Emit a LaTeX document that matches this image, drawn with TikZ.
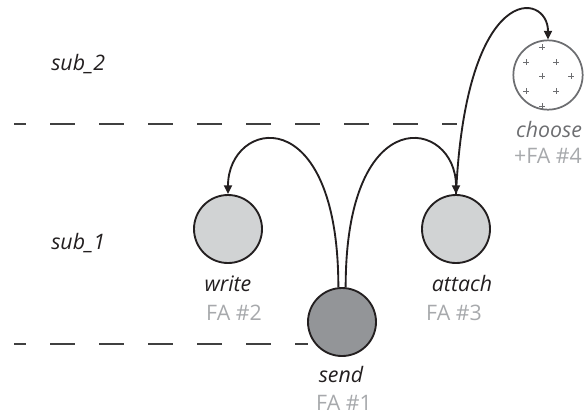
\documentclass[tikz,border=0pt]{standalone}
\usepackage{fontspec}
\setmainfont{Open Sans}
\usetikzlibrary{arrows.meta,calc}
\definecolor{lightfill}{HTML}{D1D3D4}
\definecolor{darkfill}{HTML}{939598}
\definecolor{falabel}{HTML}{A7A9AC}
\definecolor{chooselabel}{HTML}{6D6E71}
\definecolor{dashgray}{HTML}{404040}
\definecolor{txt}{HTML}{231F20}
\tikzset{
  statenode/.style={circle, draw=txt, line width=1.4pt, minimum size=51pt, inner sep=0pt},
  namelabel/.style={anchor=base, font=\fontsize{16}{18}\selectfont\itshape, text=txt, inner sep=0pt},
  falab/.style={anchor=base, font=\fontsize{16}{18}\selectfont, text=falabel, inner sep=0pt},
  sublabel/.style={anchor=base west, font=\fontsize{16}{18}\selectfont\itshape, text=txt, inner sep=0pt},
  divider/.style={draw=dashgray, line width=1.6pt, dash pattern=on 18.75pt off 18pt, dash phase=9.75pt},
  conn/.style={draw=txt, line width=1.4pt},
  arr/.style={conn, -{Triangle[length=6.5pt,width=6pt]}},
  plusmark/.style={draw=chooselabel, line width=0.6pt}
}
\begin{document}
\begin{tikzpicture}[x=0.75pt,y=-0.75pt]
\useasboundingbox (0,0) rectangle (584,415);
% dividers
\coordinate (d1a) at (14,124);
\coordinate (d1b) at (457,124);
\coordinate (d2a) at (14,344);
\coordinate (d2b) at (308,344);
\draw[divider] (d1a) -- (d1b);
\draw[divider] (d2a) -- (d2b);
% sub labels
\node[sublabel] (s2) at (51,70) {sub\_2};
\node[sublabel] (s1) at (51,249) {sub\_1};
% states
\node[statenode, fill=lightfill] (write) at (228,229) {};
\node[statenode, fill=darkfill] (send) at (342,322) {};
\node[statenode, fill=lightfill] (attach) at (456,229) {};
\node[statenode, draw=chooselabel, fill=white, line width=1.3pt, minimum size=52pt] (choose) at (548,75) {};
% plus marks
\foreach \dx/\dy [count=\i] in {-6/-28,-22/-13,8/-13,-6/1,23/1,-22/16,8/16,-6/31}{
  \coordinate (p\i) at ($(choose.center)+(\dx,\dy)$);
  \draw[plusmark] ($(p\i)+(-3,0)$) -- ($(p\i)+(3,0)$);
  \draw[plusmark] ($(p\i)+(0,-3)$) -- ($(p\i)+(0,3)$);
}
% labels
\node[namelabel] (lw) at (228,291) {write};
\node[falab] (fw) at (234,320) {FA \#2};
\node[namelabel] (ls) at (341,382) {send};
\node[falab] (fs) at (344,410) {FA \#1};
\node[namelabel] (la) at (462,291) {attach};
\node[falab] (fa) at (454,320) {FA \#3};
\node[namelabel, text=chooselabel] (lc) at (549,137) {choose};
\node[falab] (fc) at (548,163) {+FA \#4};
% connectors
\draw[arr] (send.96) .. controls +(0,-190) and +(0,-75) .. (write.north);
\draw[arr] (send.84) .. controls +(0,-190) and +(0,-75) .. (attach.north);
\draw[arr] (attach.north) .. controls +(10,-215) and +(0,-48) .. (choose.north);
\end{tikzpicture}
\end{document}
